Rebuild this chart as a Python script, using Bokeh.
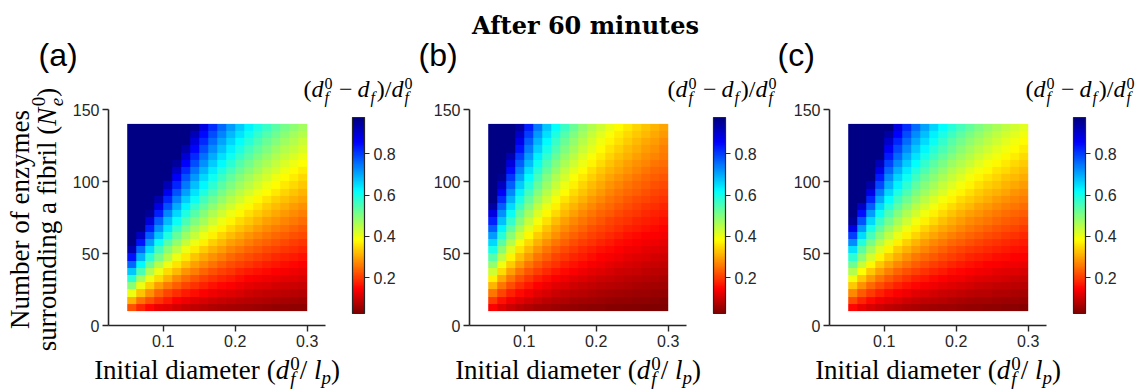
import math
import numpy as np
from bokeh.plotting import figure
from bokeh.layouts import row, column
from bokeh.models import LinearColorMapper, ColorBar, FixedTicker, Label
from bokeh.embed import file_html
from bokeh.resources import INLINE

# ---------------- data ----------------
d_centers = [0.05625, 0.06875, 0.08125, 0.09375, 0.10625, 0.11875, 0.13125, 0.14375, 0.15625, 0.16875,
             0.18125, 0.19375, 0.20625, 0.21875, 0.23125, 0.24375, 0.25625, 0.26875, 0.28125, 0.29375]
N_centers = [12.5, 17.5, 22.5, 27.5, 32.5, 37.5, 42.5, 47.5, 52.5, 57.5, 62.5, 67.5, 72.5,
             77.5, 82.5, 87.5, 92.5, 97.5, 102.5, 107.5, 112.5, 117.5, 122.5, 127.5, 132.5, 137.5]

# (d_f^0 - d_f)/d_f^0 ; one list per d column, values listed along N_centers (bottom -> top)
cols_a = [
    [.22, .31, .40, .49, .58, .67, .76, .84, .93, .97, .97, .97, .97, .97, .97, .97, .97, .97, .97, .97, .97, .97, .97, .97, .97, .97],
    [.18, .25, .33, .40, .47, .55, .62, .69, .76, .84, .91, .97, .97, .97, .97, .97, .97, .97, .97, .97, .97, .97, .97, .97, .97, .97],
    [.15, .22, .28, .34, .40, .46, .52, .58, .65, .71, .77, .83, .89, .95, .97, .97, .97, .97, .97, .97, .97, .97, .97, .97, .97, .97],
    [.13, .19, .24, .29, .35, .40, .45, .51, .56, .61, .67, .72, .77, .83, .88, .93, .97, .97, .97, .97, .97, .97, .97, .97, .97, .97],
    [.12, .17, .21, .26, .31, .35, .40, .45, .49, .54, .59, .64, .68, .73, .78, .82, .87, .92, .965, .97, .97, .97, .97, .97, .97, .97],
    [.105, .147, .189, .232, .274, .316, .358, .400, .442, .484, .526, .568, .610, .653, .695, .737, .779, .821, .863, .905, .947, .97, .97, .97, .97, .97],
    [.095, .133, .171, .210, .248, .286, .324, .362, .400, .438, .476, .514, .552, .590, .629, .667, .705, .743, .781, .819, .857, .895, .933, .97, .97, .97],
    [.087, .122, .157, .191, .226, .261, .296, .330, .365, .400, .435, .470, .504, .539, .574, .609, .643, .678, .713, .748, .783, .817, .852, .887, .922, .957],
    [.080, .112, .144, .176, .208, .240, .272, .304, .336, .368, .400, .432, .464, .496, .528, .560, .592, .624, .656, .688, .720, .752, .784, .816, .848, .880],
    [.074, .104, .133, .163, .193, .222, .252, .281, .311, .341, .370, .400, .430, .459, .489, .519, .548, .578, .607, .637, .667, .696, .726, .756, .785, .815],
    [.069, .097, .124, .152, .179, .207, .234, .262, .290, .317, .345, .372, .400, .428, .455, .483, .510, .538, .566, .593, .621, .648, .676, .703, .731, .759],
    [.065, .090, .116, .142, .168, .194, .219, .245, .271, .297, .323, .348, .374, .400, .426, .452, .477, .503, .529, .555, .581, .606, .632, .658, .684, .710],
    [.061, .085, .109, .133, .158, .182, .206, .230, .255, .279, .303, .327, .352, .376, .400, .424, .448, .473, .497, .521, .545, .570, .594, .618, .642, .667],
    [.057, .080, .103, .126, .149, .171, .194, .217, .240, .263, .286, .309, .331, .354, .377, .400, .423, .446, .469, .491, .514, .537, .560, .583, .606, .629],
    [.054, .076, .097, .119, .141, .162, .184, .205, .227, .249, .270, .292, .314, .335, .357, .378, .400, .422, .443, .465, .486, .508, .530, .551, .573, .595],
    [.051, .072, .092, .113, .133, .154, .174, .195, .215, .236, .256, .277, .297, .318, .338, .359, .379, .400, .420, .441, .462, .482, .503, .523, .544, .564],
    [.049, .068, .088, .107, .127, .146, .166, .185, .205, .224, .244, .263, .283, .302, .322, .341, .361, .380, .400, .420, .439, .459, .478, .498, .517, .537],
    [.047, .065, .084, .102, .121, .140, .158, .177, .195, .214, .233, .251, .270, .288, .307, .326, .344, .363, .381, .400, .419, .437, .456, .474, .493, .512],
    [.044, .062, .080, .098, .116, .133, .151, .169, .187, .204, .222, .240, .258, .276, .293, .311, .329, .347, .364, .382, .400, .418, .436, .453, .471, .489],
    [.043, .060, .077, .094, .111, .128, .145, .162, .179, .196, .213, .230, .247, .264, .281, .298, .315, .332, .349, .366, .383, .400, .417, .434, .451, .468],
]
cols_b = [
    [.142, .199, .256, .313, .370, .427, .484, .541, .598, .655, .712, .769, .826, .883, .940, .97, .97, .97, .97, .97, .97, .97, .97, .97, .97, .97],
    [.117, .163, .210, .256, .303, .350, .396, .443, .490, .536, .583, .629, .676, .723, .769, .816, .862, .909, .956, .97, .97, .97, .97, .97, .97, .97],
    [.099, .138, .178, .217, .256, .296, .335, .375, .414, .453, .493, .532, .572, .611, .651, .690, .729, .769, .808, .848, .887, .927, .966, .97, .97, .97],
    [.085, .120, .154, .188, .222, .256, .291, .325, .359, .393, .427, .462, .496, .530, .564, .598, .632, .667, .701, .735, .769, .803, .838, .872, .906, .940],
    [.075, .106, .136, .166, .196, .226, .256, .287, .317, .347, .377, .407, .437, .468, .498, .528, .558, .588, .618, .648, .679, .709, .739, .769, .799, .829],
    [.067, .094, .121, .148, .175, .202, .229, .256, .283, .310, .337, .364, .391, .418, .445, .472, .499, .526, .553, .580, .607, .634, .661, .688, .715, .742],
    [.061, .085, .110, .134, .159, .183, .208, .232, .256, .281, .305, .330, .354, .378, .403, .427, .452, .476, .500, .525, .549, .574, .598, .623, .647, .671],
    [.056, .078, .100, .123, .145, .167, .190, .212, .234, .256, .279, .301, .323, .346, .368, .390, .413, .435, .457, .479, .502, .524, .546, .569, .591, .613],
    [.051, .072, .092, .113, .133, .154, .174, .195, .215, .236, .256, .277, .297, .318, .338, .359, .379, .400, .420, .441, .462, .482, .503, .523, .544, .564],
    [.047, .066, .085, .104, .123, .142, .161, .180, .199, .218, .237, .256, .275, .294, .313, .332, .351, .370, .389, .408, .427, .446, .465, .484, .503, .522],
    [.044, .062, .080, .097, .115, .133, .150, .168, .186, .203, .221, .239, .256, .274, .292, .309, .327, .345, .362, .380, .398, .415, .433, .451, .469, .486],
    [.041, .058, .074, .091, .107, .124, .140, .157, .173, .190, .206, .223, .239, .256, .272, .289, .306, .322, .339, .355, .372, .388, .405, .421, .438, .454],
    [.039, .054, .070, .085, .101, .116, .132, .148, .163, .179, .194, .210, .225, .241, .256, .272, .287, .303, .319, .334, .350, .365, .381, .396, .412, .427],
    [.037, .051, .066, .081, .095, .110, .125, .139, .154, .168, .183, .198, .212, .227, .242, .256, .271, .286, .300, .315, .330, .344, .359, .374, .388, .403],
    [.035, .049, .062, .076, .090, .104, .118, .132, .146, .160, .173, .187, .201, .215, .229, .243, .256, .270, .284, .298, .312, .326, .340, .354, .367, .381],
    [.033, .046, .059, .072, .086, .099, .112, .125, .138, .151, .164, .178, .191, .204, .217, .230, .243, .256, .270, .283, .296, .309, .322, .335, .349, .362],
    [.031, .044, .056, .069, .081, .094, .106, .119, .131, .144, .156, .169, .181, .194, .206, .219, .231, .244, .256, .269, .281, .294, .306, .319, .331, .344],
    [.030, .042, .054, .066, .078, .089, .101, .113, .125, .137, .149, .161, .173, .185, .197, .209, .221, .233, .244, .256, .268, .280, .292, .304, .316, .328],
    [.028, .040, .051, .063, .074, .085, .097, .108, .120, .131, .142, .154, .165, .177, .188, .199, .211, .222, .234, .245, .256, .268, .279, .291, .302, .313],
    [.027, .038, .049, .060, .071, .082, .093, .104, .115, .125, .136, .147, .158, .169, .180, .191, .202, .213, .224, .235, .246, .257, .267, .278, .289, .300],
]
cols_c = [
    [.152, .213, .273, .334, .395, .456, .517, .577, .648, .724, .800, .876, .951, .97, .97, .97, .97, .97, .97, .97, .97, .97, .97, .97, .97, .97],
    [.128, .179, .230, .282, .333, .384, .435, .487, .538, .589, .650, .715, .779, .843, .906, .97, .97, .97, .97, .97, .97, .97, .97, .97, .97, .97],
    [.111, .156, .200, .245, .289, .333, .378, .422, .467, .511, .556, .600, .656, .711, .768, .823, .878, .934, .97, .97, .97, .97, .97, .97, .97, .97],
    [.098, .138, .177, .216, .256, .295, .334, .374, .413, .453, .492, .531, .571, .611, .655, .700, .743, .788, .832, .876, .920, .964, .97, .97, .97, .97],
    [.089, .124, .159, .195, .230, .266, .301, .336, .372, .407, .442, .478, .513, .549, .584, .619, .655, .690, .726, .761, .796, .832, .867, .903, .938, .97],
    [.081, .113, .145, .177, .209, .241, .274, .306, .338, .370, .402, .435, .467, .499, .531, .563, .596, .628, .660, .692, .724, .757, .789, .821, .853, .885],
    [.074, .104, .133, .163, .192, .222, .251, .281, .311, .340, .370, .399, .429, .458, .488, .518, .547, .577, .606, .636, .665, .695, .725, .754, .784, .813],
    [.068, .096, .123, .150, .178, .205, .233, .260, .287, .315, .342, .369, .397, .424, .452, .479, .506, .534, .561, .588, .616, .643, .671, .698, .725, .753],
    [.064, .089, .115, .140, .166, .191, .217, .242, .268, .293, .319, .344, .370, .395, .421, .446, .472, .497, .523, .548, .574, .599, .625, .650, .676, .701],
    [.060, .084, .107, .131, .155, .179, .203, .227, .251, .275, .299, .322, .346, .370, .394, .418, .442, .466, .490, .513, .537, .561, .585, .609, .633, .657],
    [.056, .079, .101, .124, .146, .169, .191, .214, .236, .259, .281, .304, .326, .349, .371, .393, .416, .438, .461, .483, .506, .528, .551, .573, .596, .618],
    [.053, .074, .096, .117, .138, .159, .180, .202, .223, .244, .265, .287, .308, .329, .350, .372, .393, .414, .435, .456, .478, .499, .520, .541, .563, .584],
    [.050, .070, .091, .111, .131, .151, .171, .191, .211, .232, .252, .272, .292, .312, .332, .352, .373, .393, .413, .433, .453, .473, .493, .513, .534, .554],
    [.048, .067, .086, .105, .124, .144, .163, .182, .201, .220, .239, .259, .278, .297, .316, .335, .354, .374, .393, .412, .431, .450, .469, .489, .508, .527],
    [.046, .064, .082, .100, .119, .137, .155, .174, .192, .210, .228, .247, .265, .283, .301, .320, .338, .356, .375, .393, .411, .429, .448, .466, .484, .503],
    [.044, .061, .079, .096, .114, .131, .149, .166, .183, .201, .218, .236, .253, .271, .288, .306, .323, .341, .358, .376, .393, .411, .428, .446, .463, .481],
    [.042, .059, .075, .092, .109, .126, .142, .159, .176, .193, .209, .226, .243, .260, .276, .293, .310, .327, .343, .360, .377, .394, .410, .427, .444, .461],
    [.040, .056, .072, .088, .105, .121, .137, .153, .169, .185, .201, .217, .233, .249, .265, .281, .298, .314, .330, .346, .362, .378, .394, .410, .426, .442],
    [.039, .054, .070, .085, .101, .116, .132, .147, .163, .178, .193, .209, .224, .240, .255, .271, .286, .302, .317, .333, .348, .364, .379, .395, .410, .426],
    [.037, .052, .067, .082, .097, .112, .127, .142, .157, .171, .186, .201, .216, .231, .246, .261, .276, .291, .306, .321, .336, .351, .366, .380, .395, .410],
]

x_ticks = [0.1, 0.2, 0.3]
y_ticks = [0, 50, 100, 150]
x_bounds = (0.024, 0.326)
y_bounds = (0, 150)
cbar_ticks = [0.2, 0.4, 0.6, 0.8]
cbar_low, cbar_high = 0.027, 0.975
panel_tags = ["(a)", "(b)", "(c)"]
title_text = "After 60 minutes"

for name, cols in (("a", cols_a), ("b", cols_b), ("c", cols_c)):
    assert len(cols) == len(d_centers), name
    for i, c in enumerate(cols):
        assert len(c) == len(N_centers), (name, i, len(c))

# ---------------- style / layout ----------------
AX = "#262626"
SERIF = "Liberation Serif"
SANS = "Liberation Sans"
BASE_SHIFT = 0.34   # compensation of the renderer's baseline offset (fraction of font size)
TOP_H = 76          # strip holding the title and panel tags
LEFT_W = 66         # strip holding the y label
BOT_H = 36          # strip holding the x labels
PANEL_H = 390 - TOP_H - BOT_H
FRAME_B = 325       # page y of the axes' bottom
PX_PER_X = 720.0    # pixels per unit of d
PX_PER_Y = 1.44     # pixels per unit of N
PANEL_X0 = [66, 418, 785]
PANEL_W = [352, 367, 356]
FRAME_L = [108, 469, 829]


def jet_palette(n=256):
    pal = []
    for i in range(n):
        t = 1.0 - i / (n - 1)   # reversed jet: low -> dark red, high -> dark blue
        r = min(max(1.5 - abs(4 * t - 3), 0), 1)
        g = min(max(1.5 - abs(4 * t - 2), 0), 1)
        b = min(max(1.5 - abs(4 * t - 1), 0), 1)
        pal.append("#%02x%02x%02x" % (int(round(r * 255)), int(round(g * 255)), int(round(b * 255))))
    return pal


PALETTE = jet_palette()


def place(p, fl, fb, px, py, text, size, font=SERIF, style="normal", angle=0.0,
          color="#000000", align="left"):
    """Place a text whose baseline starts at page pixel (px, py); (fl, fb) = page
    position of the frame's left / bottom edge of figure p."""
    if angle == 0.0:
        py = py - BASE_SHIFT * size
    else:
        px = px - BASE_SHIFT * size
    p.add_layout(Label(x=px - fl, y=fb - py, x_units="screen", y_units="screen",
                       text=text, text_font=font, text_font_size=f"{size}px",
                       text_font_style=style, text_color=color, text_align=align,
                       text_baseline="alphabetic", angle=angle))


def compose(p, fl, fb, px, py, pieces, angle=0.0):
    along = 0.0
    for txt, size, style, rise, adv in pieces:
        if angle == 0.0:
            x, y = px + along, py - rise
        else:
            x, y = px - rise, py - along
        if txt.strip():
            place(p, fl, fb, x, y, txt, size, style=style, angle=angle)
        along += adv


def strip(w, h):
    p = figure(width=w, height=h, x_range=(0, 1), y_range=(0, 1),
               x_axis_location=None, y_axis_location=None,
               output_backend="svg", toolbar_location=None, min_border=0)
    p.outline_line_color = None
    p.background_fill_color = "white"
    p.border_fill_color = "white"
    for g in p.xgrid + p.ygrid:
        g.visible = False
    return p


M, S = 27, 19
xlabel_pieces = [
    ("Initial diameter", M, "normal", 0, 172.5),
    ("(", M, "normal", 0, 9),
    ("d", M, "italic", 0, 14.5),
    ("0", S, "normal", 10, 0),
    ("f", S, "italic", -5, 9.5),
    ("/", M, "normal", 0, 14.25),
    ("l", M, "italic", 0, 7.5),
    ("p", S, "italic", -4, 9.5),
    (")", M, "normal", 0, 9),
]
XLABEL_W = sum(pc[4] for pc in xlabel_pieces)

ylabel2_pieces = [
    ("surrounding a fibril", M, "normal", 0, 216.7),
    ("(", M, "normal", 0, 9),
    ("N", M, "italic", 0, 19.5),
    ("0", S, "normal", 11.5, 0),
    ("e", S, "italic", -6, 9.5),
    (")", M, "normal", 0, 9),
]
YLABEL2_W = sum(pc[4] for pc in ylabel2_pieces)

C, CS = 24, 16
ctitle_pieces = [
    ("(", C, "normal", 0, 8),
    ("d", C, "italic", 0, 13),
    ("0", CS, "normal", 9, 0),
    ("f", CS, "italic", -5, 14.5),
    ("\u2212", C, "normal", 0, 18.5),
    ("d", C, "italic", 0, 13),
    ("f", CS, "italic", -5, 6.2),
    (")", C, "normal", 0, 8),
    ("/", C, "normal", 0, 6.7),
    ("d", C, "italic", 0, 13),
    ("0", CS, "normal", 9, 0),
    ("f", CS, "italic", -5, 9.5),
]
CTITLE_X = [303, 667, 1025]
TAG_X = [38, 418, 777]

# ---------------- top strip: title + panel tags ----------------
top = strip(1141, TOP_H)
place(top, 0, TOP_H, 585, 33, title_text, 24, font="DejaVu Serif", style="bold", align="center")
for k in range(3):
    place(top, 0, TOP_H, TAG_X[k], 65, panel_tags[k], 32, font=SANS)

# ---------------- left strip: y label ----------------
left = strip(LEFT_W, 390 - TOP_H)
place(left, 0, 390, 29, 219, "Number of enzymes", M, angle=math.pi / 2, align="center")
compose(left, 0, 390, 56, 219 + YLABEL2_W / 2, ylabel2_pieces, angle=math.pi / 2)

# ---------------- bottom strip: x labels ----------------
bottom = strip(1141 - LEFT_W, BOT_H)

# ---------------- panels ----------------
panels = []
for k, cols in enumerate([cols_a, cols_b, cols_c]):
    x0, w, fl = PANEL_X0[k], PANEL_W[k], FRAME_L[k]
    lb = fl - x0
    fw = x0 + w - fl
    fh = FRAME_B - TOP_H
    p = figure(width=w, height=PANEL_H,
               x_range=(x_bounds[0], x_bounds[0] + fw / PX_PER_X),
               y_range=(0, fh / PX_PER_Y),
               output_backend="svg", toolbar_location=None,
               min_border_left=lb, min_border_right=0,
               min_border_top=0, min_border_bottom=PANEL_H - fh)
    p.outline_line_color = None
    p.xgrid.visible = False
    p.ygrid.visible = False
    p.background_fill_color = "white"
    p.border_fill_color = "white"

    mapper = LinearColorMapper(palette=PALETTE, low=cbar_low, high=cbar_high)
    arr = np.array(cols, dtype=float).T      # rows = N (bottom -> top), cols = d
    dx = d_centers[1] - d_centers[0]
    dy = N_centers[1] - N_centers[0]
    p.image(image=[arr], x=d_centers[0] - dx / 2, y=N_centers[0] - dy / 2,
            dw=dx * len(d_centers), dh=dy * len(N_centers), color_mapper=mapper)

    p.xaxis.ticker = FixedTicker(ticks=x_ticks)
    p.yaxis.ticker = FixedTicker(ticks=y_ticks)
    p.xaxis.bounds = x_bounds
    p.yaxis.bounds = y_bounds
    for ax in (p.xaxis[0], p.yaxis[0]):
        ax.axis_line_color = AX
        ax.axis_line_width = 1.6
        ax.major_tick_line_color = AX
        ax.major_tick_line_width = 1.4
        ax.major_tick_out = 6
        ax.major_tick_in = 0
        ax.minor_tick_line_color = None
        ax.major_label_text_font = SANS
        ax.major_label_text_font_size = "16px"
        ax.major_label_text_color = AX
        ax.major_label_standoff = 3

    cb = ColorBar(color_mapper=mapper, ticker=FixedTicker(ticks=cbar_ticks),
                  width=12, height=196, location=(244, 12), padding=0,
                  bar_line_color=AX, bar_line_width=1.2,
                  major_tick_line_color=AX, major_tick_out=5, major_tick_in=0,
                  minor_tick_line_color=None, label_standoff=4,
                  major_label_text_font=SANS, major_label_text_font_size="16px",
                  major_label_text_color=AX,
                  background_fill_color=None, border_line_color=None)
    p.add_layout(cb, "center")

    compose(p, fl, FRAME_B, CTITLE_X[k], 97, ctitle_pieces)
    compose(bottom, LEFT_W, 390, fl + 108.5 - XLABEL_W / 2, 379, xlabel_pieces)
    panels.append(p)

layout = column(
    top,
    row(left, column(row(*panels, spacing=0), bottom, spacing=0), spacing=0),
    spacing=0,
)
with open("out.html", "w") as f:
    f.write(file_html(layout, INLINE))
